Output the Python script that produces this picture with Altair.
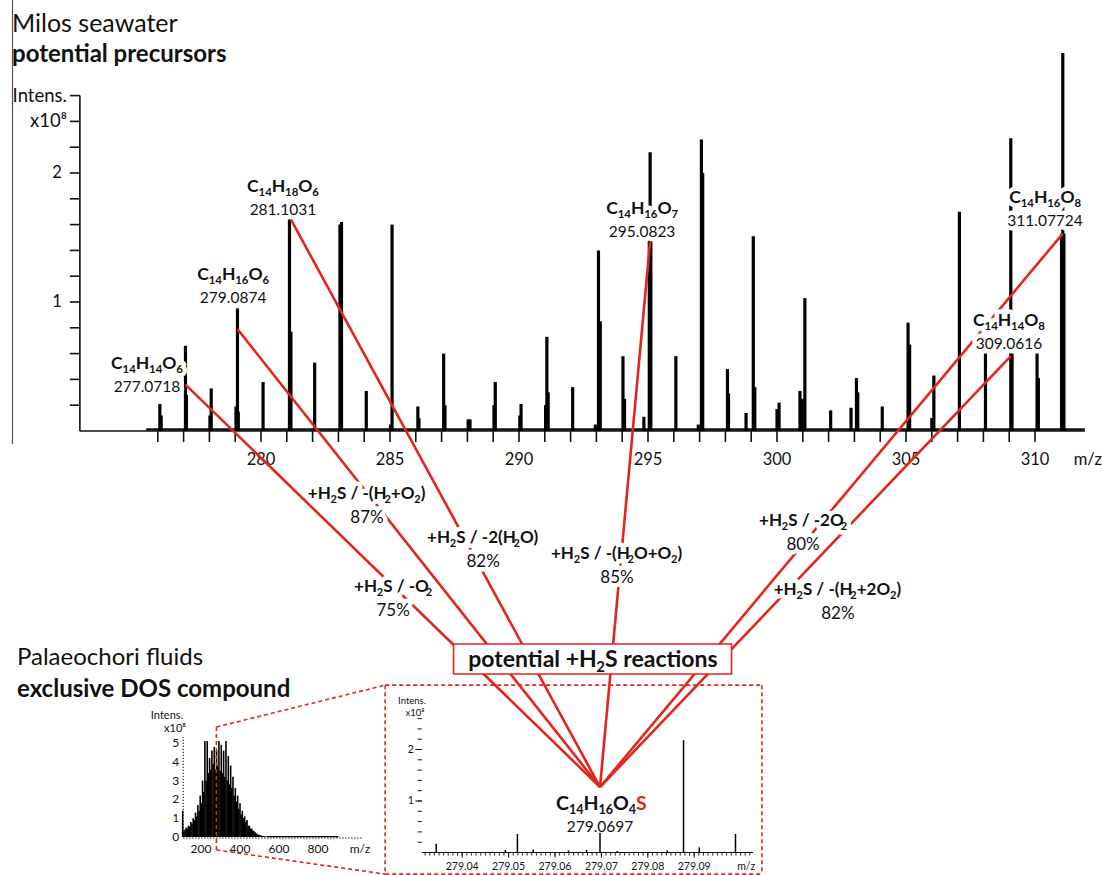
import altair as alt
import pandas as pd

W, H = 1102, 875
FONT = "Lato, Noto Sans, DejaVu Sans, sans-serif"
RED = "#e2261b"
INK = "#111111"

# ---------------------------------------------------------------------------
# Milos seawater spectrum: m/z and intensity (x1e8)
main_mz = [276.08, 276.13, 277.0718, 277.11, 278.02, 278.07, 279.03, 279.0874, 279.12,
           280.08, 281.1031, 281.16, 282.08, 283.06, 283.12, 284.08, 285.02, 285.08,
           286.08, 286.12, 287.08, 287.13, 288.03, 288.10, 289.03, 289.08, 290.03, 290.08,
           291.03, 291.08, 291.13, 292.08, 292.96, 293.08, 293.15, 294.03, 294.09, 294.84,
           295.05, 295.0823, 295.11, 296.08, 296.95, 297.07, 297.12, 298.08, 298.12, 298.80,
           299.08, 299.14, 300.00, 300.08, 300.89, 300.98, 301.08, 302.08, 302.87, 303.08,
           303.13, 304.08, 305.08, 305.14, 306.00, 306.08, 307.07, 308.08, 309.0616, 309.11,
           310.08, 310.13, 311.03, 311.07724, 311.12]
main_int = [0.21, 0.12, 0.66, 0.28, 0.12, 0.33, 0.19, 0.95, 0.15,
            0.38, 1.66, 0.77, 0.53, 1.60, 1.62, 0.31, 0.05, 1.60,
            0.19, 0.10, 0.60, 0.20, 0.09, 0.09, 0.20, 0.38, 0.12, 0.21,
            0.20, 0.73, 0.30, 0.34, 0.05, 1.40, 0.85, 0.58, 0.25, 0.11,
            1.47, 2.16, 1.47, 0.58, 0.05, 2.26, 2.00, 0.48, 0.29, 0.14,
            1.51, 0.34, 0.17, 0.22, 0.31, 0.25, 1.03, 0.16, 0.18, 0.41,
            0.30, 0.19, 0.84, 0.67, 0.10, 0.43, 1.70, 0.60, 2.27, 0.60,
            0.75, 0.41, 1.53, 2.93, 1.53]
main_x_ticks = list(range(276, 311))
main_x_labels = [280, 285, 290, 295, 300, 305, 310]
main_y_ticks = [0.2, 0.4, 0.6, 0.8, 1.0, 1.2, 1.4, 1.6, 1.8, 2.0, 2.2, 2.4, 2.6]
main_y_labels = [1, 2]

# precursors: formula, exact mass, peak m/z, where the reaction line leaves the peak
prec_formula = ["C₁₄H₁₄O₆", "C₁₄H₁₆O₆", "C₁₄H₁₈O₆", "C₁₄H₁₆O₇", "C₁₄H₁₄O₈", "C₁₄H₁₆O₈"]
prec_mass = ["277.0718", "279.0874", "281.1031", "295.0823", "309.0616", "311.07724"]
prec_peak_mz = [277.0718, 279.0874, 281.1031, 295.0823, 309.0616, 311.07724]
prec_anchor_int = [0.36, 0.79, 1.66, 1.47, 0.58, 1.53]
prec_label_mz = [275.58, 278.92, 280.85, 294.77, 308.99, 310.39]
prec_label_int = [0.527, 1.217, 1.899, 1.729, 0.860, 1.814]

# reactions leading to the sulfur compound
react_text = ["+H₂S / -O₂", "+H₂S / -(H₂+O₂)", "+H₂S / -2(H₂O)",
              "+H₂S / -(H₂O+O₂)", "+H₂S / -2O₂", "+H₂S / -(H₂+2O₂)"]
react_pct = ["75%", "87%", "82%", "85%", "80%", "82%"]
react_mz = [285.12, 284.11, 288.61, 293.80, 301.01, 302.36]
react_int = [-1.202, -0.481, -0.822, -0.946, -0.690, -1.225]
converge = (293.14, -2.76)
reaction_box = (292.85, -1.767)

# ---------------------------------------------------------------------------
# Palaeochori fluids, full-range spectrum (m/z, intensity x1e8)
full_mz = list(range(106, 539, 6))
full_int = [1.4, 0.3, 0.4, 0.5, 0.45, 0.6, 0.55, 0.8, 0.7, 1.0, 0.9, 1.3, 1.1, 1.7,
            1.4, 2.2, 1.8, 3.0, 2.4, 5.1, 3.0, 5.1, 3.4, 4.2, 3.6, 4.6, 3.9, 4.8,
            3.6, 4.6, 3.8, 5.1, 3.5, 4.9, 3.4, 4.6, 3.2, 5.1, 3.0, 4.3, 2.8, 3.8,
            2.6, 3.2, 2.2, 2.6, 1.9, 2.2, 1.5, 1.8, 1.2, 1.4, 1.0, 1.1, 0.8, 0.9,
            0.6, 0.6, 0.45, 0.45, 0.35, 0.3, 0.25, 0.2, 0.15, 0.12, 0.1, 0.08,
            0.06, 0.05, 0.04, 0.03, 0.03]
full_x_labels = [200, 400, 600, 800]
full_y_labels = [0, 1, 2, 3, 4, 5]

# zoom on m/z 279.03 - 279.10
zoom_mz = [279.0344, 279.0493, 279.0519, 279.0553, 279.0629, 279.0668,
           279.0697, 279.0734, 279.0842, 279.0877, 279.0911, 279.0989]
zoom_int = [0.17, 0.05, 0.36, 0.06, 0.04, 0.05, 0.38, 0.03, 0.04, 2.18, 0.10, 0.36]
zoom_x_labels = ["279.04", "279.05", "279.06", "279.07", "279.08", "279.09"]
zoom_y_ticks = [0.2, 0.4, 0.6, 0.8, 1.0, 1.2, 1.4, 1.6, 1.8, 2.0, 2.2, 2.4, 2.6]
zoom_y_labels = [1, 2]


# ---------------------------------------------------------------------------
# three coordinate frames sharing the canvas
def frame(ref_val, ref_px, px_per_x, zero_px, px_per_y):
    return {"x": [ref_val - ref_px / px_per_x, ref_val + (W - ref_px) / px_per_x],
            "y": [(zero_px - H) / px_per_y, zero_px / px_per_y]}


MAIN = frame(280.0, 261.0, 25.8, 431.0, 129.0)
FULL = frame(200.0, 201.0, 0.195, 837.0, 18.8)
ZOOM = frame(279.0697, 600.0, 4640.0, 852.5, 51.5)


def to_px(fr, x, y):
    (x0, x1), (y0, y1) = fr["x"], fr["y"]
    return (x - x0) / (x1 - x0) * W, (y1 - y) / (y1 - y0) * H


def from_px(fr, px, py):
    (x0, x1), (y0, y1) = fr["x"], fr["y"]
    return x0 + px / W * (x1 - x0), y1 - py / H * (y1 - y0)


def X(field, fr):
    return alt.X(field, type="quantitative", axis=None,
                 scale=alt.Scale(domain=fr["x"], nice=False, zero=False))


def Y(field, fr):
    return alt.Y(field, type="quantitative", axis=None,
                 scale=alt.Scale(domain=fr["y"], nice=False, zero=False))


def segs(rows, fr, **mark):
    df = pd.DataFrame(rows, columns=["x", "y", "x2", "y2"])
    return alt.Chart(df).mark_rule(**mark).encode(
        x=X("x", fr), y=Y("y", fr), x2="x2:Q", y2="y2:Q")


def texts(rows, fr, **mark):
    df = pd.DataFrame(rows, columns=["x", "y", "t"])
    return alt.Chart(df).mark_text(font=FONT, **mark).encode(
        x=X("x", fr), y=Y("y", fr), text="t:N")


def halo_texts(rows, fr, **mark):
    back = texts(rows, fr, fill="white", stroke="white", strokeWidth=9,
                 strokeJoin="round", **mark)
    front = texts(rows, fr, fill=INK, **mark)
    return [back, front]


def title(txt, px, py, **mark):
    return alt.Chart(pd.DataFrame({"t": [txt]})).mark_text(
        font=FONT, align="left", baseline="alphabetic", fill=INK, **mark
    ).encode(x=alt.value(px), y=alt.value(py), text="t:N")


# ---------------------------------------------------------------------------
# chemical formulas: subscript digits set as smaller, lowered runs of bold text
SUBS = "₀₁₂₃₄₅₆₇₈₉"
EM_BOLD = {"C": .66, "H": .76, "O": .80, "S": .55, "+": .58, " ": .19, "/": .40,
           "-": .37, "(": .33, ")": .33, "p": .58, "o": .58, "t": .36, "e": .54,
           "n": .58, "i": .26, "a": .52, "l": .26, "r": .38, "c": .47, "s": .43}
SUB_SCALE = 0.65


def formula_rows(fr, segments, cx, cy, fs):
    """segments: list of (text, colour); centred on data point (cx, cy)."""
    px, py = to_px(fr, cx, cy)
    glyphs = []
    for txt, col in segments:
        for ch in txt:
            sub = ch in SUBS
            c = str(SUBS.index(ch)) if sub else ch
            size = fs * SUB_SCALE if sub else fs
            w = (0.58 if c.isdigit() else EM_BOLD.get(c, .55)) * size
            glyphs.append([c, sub, col, size, w])
    total = sum(g[4] for g in glyphs)
    x = px - total / 2
    base = py + 0.36 * fs
    rows = []
    for c, sub, col, size, w in glyphs:
        if rows and rows[-1]["sub"] == sub and rows[-1]["col"] == col:
            rows[-1]["t"] += c
        else:
            yy = base + (0.2 * fs if sub else 0)
            dx, dy = from_px(fr, x, yy)
            rows.append({"x": dx, "y": dy, "t": c, "fs": size, "col": col, "sub": sub})
        x += w
    return rows


def formula_layers(rows, fr, halo=True):
    df = pd.DataFrame(rows)
    enc = dict(x=X("x", fr), y=Y("y", fr), text="t:N", size=alt.Size("fs:Q", scale=None))
    out = []
    if halo:
        out.append(alt.Chart(df).mark_text(
            font=FONT, fontWeight="bold", align="left", baseline="alphabetic",
            fill="white", stroke="white", strokeWidth=9, strokeJoin="round").encode(**enc))
    out.append(alt.Chart(df).mark_text(
        font=FONT, fontWeight="bold", align="left", baseline="alphabetic").encode(
        color=alt.Color("col:N", scale=None), **enc))
    return out


# ---------------------------------------------------------------------------
# main spectrum
Y_AXIS_MZ = 272.98
X_AXIS_END = 311.93
tick_mz = 10 / 25.8
tick_int = 11 / 129.0

main_layers = [
    # frame line on the far left
    alt.Chart(pd.DataFrame({"a": [0]})).mark_rule(color="#555555", strokeWidth=1.2).encode(
        x=alt.value(12.5), y=alt.value(0), y2=alt.value(444)),
    segs([[Y_AXIS_MZ, 0, X_AXIS_END, 0], [Y_AXIS_MZ, 0, Y_AXIS_MZ, 2.6]], MAIN,
         color=INK, strokeWidth=1.6),
    segs([[Y_AXIS_MZ - tick_mz, v, Y_AXIS_MZ, v] for v in main_y_ticks], MAIN,
         color=INK, strokeWidth=1.6),
    segs([[m, 0, m, -tick_int] for m in main_x_ticks], MAIN, color=INK, strokeWidth=1.6),
    segs([[275.55, 0.012, X_AXIS_END, 0.012]], MAIN, color=INK, strokeWidth=2.4),
    segs([[m, 0, m, v] for m, v in zip(main_mz, main_int)], MAIN, color="black",
         strokeWidth=3.2),
    texts([[m, -0.225, str(m)] for m in main_x_labels], MAIN, fontSize=16.5,
          align="center", baseline="middle", fill=INK),
    texts([[312.05, -0.225, "m/z"]], MAIN, fontSize=16.5, align="center",
          baseline="middle", fill=INK),
    texts([[Y_AXIS_MZ, v, str(v)] for v in main_y_labels], MAIN, fontSize=16.5,
          align="right", baseline="middle", dx=-18, fill=INK),
    texts([[Y_AXIS_MZ, 2.6, "Intens."], [Y_AXIS_MZ, 2.4, "x10⁸"]], MAIN, fontSize=18.5,
          align="right", baseline="middle", dx=-13, fill=INK),
    # reaction lines from each precursor to the sulfur compound
    segs([[m, v, converge[0], converge[1]] for m, v in zip(prec_peak_mz, prec_anchor_int)],
         MAIN, color=RED, strokeWidth=2.6),
]
prec_rows = []
for f, x, y in zip(prec_formula, prec_label_mz, prec_label_int):
    prec_rows += formula_rows(MAIN, [(f, INK)], x, y, 17.5)
main_layers += formula_layers(prec_rows, MAIN)
main_layers += halo_texts([[x, y, t] for x, y, t in zip(prec_label_mz, prec_label_int, prec_mass)],
                          MAIN, fontSize=15.5, align="center", baseline="middle", dy=24)
react_rows = []
for r, x, y in zip(react_text, react_mz, react_int):
    react_rows += formula_rows(MAIN, [(r, INK)], x, y, 17)
main_layers += formula_layers(react_rows, MAIN)
main_layers += halo_texts([[x, y, t] for x, y, t in zip(react_mz, react_int, react_pct)],
                          MAIN, fontSize=17, align="center", baseline="middle", dy=25)
main_layers += [
    alt.Chart(pd.DataFrame({"x": [reaction_box[0]], "y": [reaction_box[1]]})).mark_point(
        shape="M-139,-15H139V15H-139Z", size=4, filled=True, fill="white", stroke=RED,
        strokeWidth=1.6, opacity=1).encode(x=X("x", MAIN), y=Y("y", MAIN)),
]
main_layers += formula_layers(
    formula_rows(MAIN, [("potential +H₂S reactions", INK)], reaction_box[0],
                 reaction_box[1], 23), MAIN, halo=False)
main_layers += [
    title("Milos seawater", 12, 32, fontSize=25),
    title("potential precursors", 12, 62, fontSize=24, fontWeight="bold"),
    title("Palaeochori fluids", 17, 665, fontSize=24),
    title("exclusive DOS compound", 17, 697, fontSize=24, fontWeight="bold"),
]
main_chart = alt.layer(*main_layers)

# ---------------------------------------------------------------------------
# zoomed spectrum of the sulfur compound, with its dashed frame
zx0, zx1 = 279.0234, 279.1046
ztop, zbot = 3.25, -0.42
zoom_axis_mz = 279.0313
zoom_layers = [
    segs([[zx0, ztop, zx1, ztop], [zx0, zbot, zx1, zbot], [zx0, ztop, zx0, zbot],
          [zx1, ztop, zx1, zbot]], ZOOM, color=RED, strokeWidth=1.6, strokeDash=[4, 3]),
    segs([[zoom_axis_mz, 0, 279.1027, 0]], ZOOM, color=INK, strokeWidth=1.1),
    segs([[279.032 + k * 0.001, 0, 279.032 + k * 0.001, -0.06] for k in range(71)], ZOOM,
         color=INK, strokeWidth=0.9),
    segs([[float(t), 0, float(t), -0.1] for t in zoom_x_labels], ZOOM, color=INK, strokeWidth=1),
    segs([[zoom_axis_mz - 0.0009, v, zoom_axis_mz, v] for v in zoom_y_ticks], ZOOM,
         color=INK, strokeWidth=1),
    segs([[zoom_axis_mz - 0.0014, v, zoom_axis_mz, v] for v in zoom_y_labels], ZOOM,
         color=INK, strokeWidth=1),
    segs([[m, 0, m, v] for m, v in zip(zoom_mz, zoom_int)], ZOOM, color="black",
         strokeWidth=1.5),
    texts([[float(t), -0.28, t] for t in zoom_x_labels], ZOOM, fontSize=10.5,
          align="center", baseline="middle", fill=INK),
    texts([[279.1012, -0.28, "m/z"]], ZOOM, fontSize=10.5, align="center",
          baseline="middle", fill=INK),
    texts([[zoom_axis_mz, v, str(v)] for v in zoom_y_labels], ZOOM, fontSize=10.5,
          align="right", baseline="middle", dx=-8, fill=INK),
    texts([[from_px(ZOOM, 412, 701)[0], from_px(ZOOM, 412, 701)[1], "Intens."],
           [from_px(ZOOM, 415, 713)[0], from_px(ZOOM, 415, 713)[1], "x10⁸"]], ZOOM,
          fontSize=9.5, align="center", baseline="middle", fill=INK),
    texts([[279.0697, 0.495, "279.0697"]], ZOOM, fontSize=15.5, align="center",
          baseline="middle", fill=INK),
]
zoom_layers += formula_layers(
    formula_rows(ZOOM, [("C₁₄H₁₆O₄", INK), ("S", RED)], 279.07, 0.961, 19.5), ZOOM,
    halo=False)
zoom_chart = alt.layer(*zoom_layers)

# ---------------------------------------------------------------------------
# full-range spectrum with the zoom connectors
full_axis_mz = 109.0
corner_top = from_px(FULL, *to_px(ZOOM, zx0, ztop))
corner_bot = from_px(FULL, *to_px(ZOOM, zx0, zbot))
full_layers = [
    segs([[full_axis_mz, 0, full_axis_mz, 5.3], [full_axis_mz, -0.05, 1026, -0.05]], FULL,
         color="#444444", strokeWidth=1.4, strokeDash=[1.2, 1.8]),
    segs([[538, 0.02, 905, 0.02]], FULL, color="black", strokeWidth=1.2),
    segs([[m, 0, m, v] for m, v in zip(full_mz, full_int)], FULL, color="black",
         strokeWidth=1.6),
    texts([[full_axis_mz, v, str(v)] for v in full_y_labels], FULL, fontSize=12,
          align="right", baseline="middle", dx=-4, fill=INK),
    texts([[m, -0.64, str(m)] for m in full_x_labels], FULL, fontSize=12,
          align="center", baseline="middle", fill=INK),
    texts([[1015, -0.64, "m/z"]], FULL, fontSize=12, align="center", baseline="middle",
          fill=INK),
    texts([[from_px(FULL, 167, 716)[0], from_px(FULL, 167, 716)[1], "Intens."],
           [from_px(FULL, 175, 729)[0], from_px(FULL, 175, 729)[1], "x10⁸"]], FULL,
          fontSize=11, align="center", baseline="middle", fill=INK),
    segs([[279, 5.85, 279, -0.69], [279, 5.85, corner_top[0], corner_top[1]],
          [279, -0.69, corner_bot[0], corner_bot[1]]], FULL, color=RED, strokeWidth=1.6,
         strokeDash=[4, 3]),
]
full_chart = alt.layer(*full_layers)

chart = alt.layer(main_chart, full_chart, zoom_chart).resolve_scale(
    x="independent", y="independent"
).properties(
    width=W, height=H, padding=0, autosize="none", background="white"
).configure_view(stroke=None)

chart.save("out.html", embed_options={"renderer": "svg", "actions": False})
